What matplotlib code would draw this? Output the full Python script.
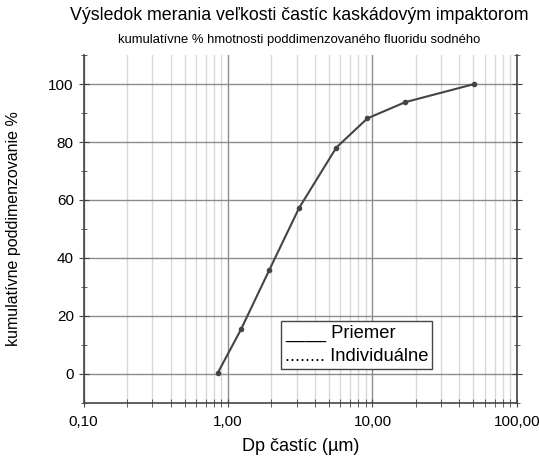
import numpy as np
import matplotlib
matplotlib.use('Agg')
import matplotlib.pyplot as plt
from matplotlib.ticker import FixedLocator, FuncFormatter, LogLocator, NullFormatter

plt.rcParams['font.family'] = ['Liberation Sans', 'DejaVu Sans']

# data
dp = [0.85, 1.23, 1.93, 3.11, 5.62, 9.23, 16.9, 50.3]
cum_pct = [0.3, 15.3, 35.8, 57.3, 78.1, 88.2, 93.8, 100.0]
yticks = [0, 20, 40, 60, 80, 100]

fig = plt.figure(figsize=(5.39, 4.59), dpi=100)
ax = fig.add_axes([0.155, 0.1227, 0.804, 0.757])

ax.set_xscale('log')
ax.set_xlim(0.1, 100)
ax.set_ylim(-10, 110)

ax.xaxis.set_major_locator(LogLocator(base=10))
ax.xaxis.set_minor_locator(LogLocator(base=10, subs=np.arange(2, 10)))
ax.xaxis.set_minor_formatter(NullFormatter())
ax.xaxis.set_major_formatter(FuncFormatter(lambda v, p: f'{v:.2f}'.replace('.', ',')))
ax.yaxis.set_major_locator(FixedLocator(yticks))
ax.yaxis.set_minor_locator(FixedLocator([-10, 10, 30, 50, 70, 90, 110]))

ax.grid(which='major', axis='y', color='#8c8c8c', lw=1.0)
ax.grid(which='major', axis='x', color='#8c8c8c', lw=1.0)
ax.grid(which='minor', axis='x', color='#d9d9d9', lw=1.0)
ax.set_axisbelow(True)

ax.spines['top'].set_visible(False)
for s in ['left', 'right', 'bottom']:
    ax.spines[s].set_color('#444444')
    ax.spines[s].set_linewidth(1.2)

ax.tick_params(axis='x', which='both', direction='inout', length=6, color='#444444', labelsize=11, pad=6)
ax.tick_params(axis='y', which='both', direction='inout', length=7, color='#444444', labelsize=11,
               right=True, left=True)
ax.tick_params(axis='y', which='minor', length=4)

ax.plot(dp, cum_pct, color='#444444', lw=1.5, marker='o', ms=3, zorder=3)

ax.set_xlabel('Dp častíc (µm)', fontsize=13, labelpad=6)
ax.set_ylabel('kumulatívne poddimenzovanie %', fontsize=11.5, labelpad=20)

ax.text(0.465, 0.166, '____ Priemer\n........ Individuálne', transform=ax.transAxes,
        fontsize=13.2, va='center', ha='left', linespacing=1.45,
        bbox=dict(boxstyle='square,pad=0.2', facecolor='white', edgecolor='#444444', lw=1))

fig.text(0.555, 0.967, 'Výsledok merania veľkosti častíc kaskádovým impaktorom',
         ha='center', va='center', fontsize=12.8)
fig.text(0.555, 0.913, 'kumulatívne % hmotnosti poddimenzovaného fluoridu sodného',
         ha='center', va='center', fontsize=9.4)

fig.savefig('out.png', dpi=100)
